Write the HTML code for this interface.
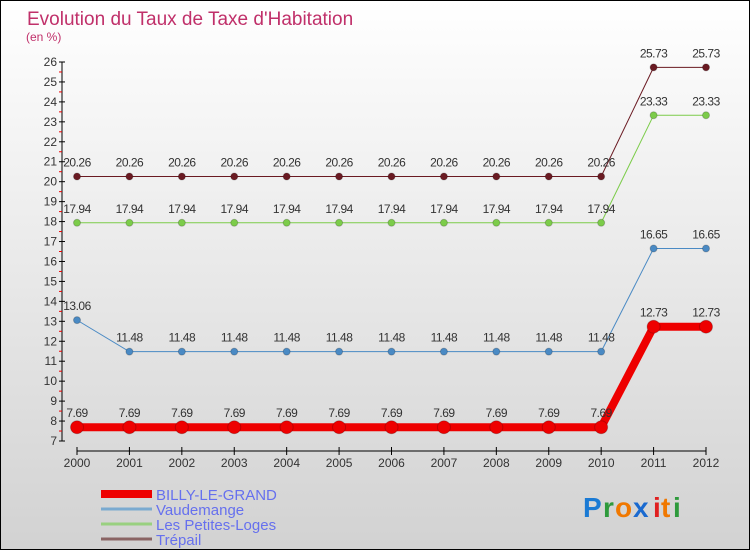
<!DOCTYPE html>
<html><head><meta charset="utf-8"><style>
body{margin:0}
#c{width:748px;height:548px;border:1px solid #000;background:linear-gradient(#fff,#d2d2d2);position:relative;font-family:"Liberation Sans",sans-serif;overflow:hidden}
</style></head><body>
<div id="c">
<svg id="s" width="748" height="548" xmlns="http://www.w3.org/2000/svg" style="position:absolute;left:0;top:0">
<text x="26" y="24" font-size="19" fill="#c0306a">Evolution du Taux de Taxe d'Habitation</text>
<text x="25" y="40" font-size="12" fill="#c0306a">(en %)</text>
<g id="axes"></g><g id="series"></g>
<g id="legend"></g>
<g font-size="28" font-weight="bold" font-family="Liberation Sans,sans-serif">
<text x="582" y="516" fill="#1a7ad4">P</text><text x="602" y="516" fill="#2e9a3c">r</text><text x="614" y="516" fill="#f07800">o</text><text x="632" y="516" fill="#1a6ad0">x</text><text x="652" y="516" fill="#e02020">i</text><text x="660" y="516" fill="#f07800">t</text><text x="672" y="516" fill="#2e9a3c">i</text>
</g>
</svg>
</div>
<script>
const years=[2000,2001,2002,2003,2004,2005,2006,2007,2008,2009,2010,2011,2012];
const billy=[7.69,7.69,7.69,7.69,7.69,7.69,7.69,7.69,7.69,7.69,7.69,12.73,12.73];
const vaud=[13.06,11.48,11.48,11.48,11.48,11.48,11.48,11.48,11.48,11.48,11.48,16.65,16.65];
const petites=[17.94,17.94,17.94,17.94,17.94,17.94,17.94,17.94,17.94,17.94,17.94,23.33,23.33];
const trepail=[20.26,20.26,20.26,20.26,20.26,20.26,20.26,20.26,20.26,20.26,20.26,25.73,25.73];
const yTicks=[7,8,9,10,11,12,13,14,15,16,17,18,19,20,21,22,23,24,25,26];
const NS="http://www.w3.org/2000/svg";
const x=i=>76+i*(705-76)/(years.length-1);
const y=v=>440-(v-7)*(440-61)/19;
function mk(p,t,a){const e=document.createElementNS(NS,t);for(const k in a)e.setAttribute(k,a[k]);p.appendChild(e);return e;}
const ax=document.getElementById('axes');
let yl=mk(ax,'line',{x1:61,y1:61,x2:61,y2:440,stroke:'#000'});


yTicks.forEach(v=>{
 mk(ax,'line',{x1:58,x2:64,y1:y(v),y2:y(v),stroke:'#000'});
 if(v<26)mk(ax,'line',{x1:58,x2:61,y1:y(v+0.5),y2:y(v+0.5),stroke:'#e00'});
 const t=mk(ax,'text',{x:56,y:y(v)+4,'font-size':12,fill:'#333','text-anchor':'end'});
 t.textContent=v;
 
 
});
let xl=mk(ax,'line',{x1:76,y1:450,x2:705,y2:450,stroke:'#000'});


years.forEach((yr,i)=>{
 mk(ax,'line',{x1:x(i),x2:x(i),y1:446,y2:454,stroke:'#000'});
 const t=mk(ax,'text',{x:x(i),y:466,'font-size':12,fill:'#333','text-anchor':'middle'});
 t.textContent=yr;
 
 
});
const sg=document.getElementById('series');
function series(d,col,lw,r,name){
 const g=mk(sg,'g',{});
 
 
 mk(g,'polyline',{points:d.map((v,i)=>x(i)+','+y(v)).join(' '),fill:'none',stroke:col,'stroke-width':lw});
 d.forEach((v,i)=>{
  const c=mk(g,'circle',{cx:x(i),cy:y(v),r:r,fill:col,stroke:'#0003'});
  
  
  const t=mk(g,'text',{x:x(i),y:y(v)-10,'font-size':12,fill:'#333','text-anchor':'middle','letter-spacing':'-0.5'});
  t.textContent=v;
  
  
 });
}
series(trepail,'#6a1a22',1,3.5,'trepail-series');
series(petites,'#7ccc4a',1,3.5,'petites-loges-series');
series(vaud,'#4a8ac4',1,3.5,'vaudemange-series');
series(billy,'#ee0000',8,6.5,'billy-series');
const lg=document.getElementById('legend');
[['BILLY-LE-GRAND','#ee0000',8],['Vaudemange','#7aaad0',3],['Les Petites-Loges','#99d080',3],['Trépail','#8a6464',3]].forEach((e,i)=>{
 const yy=493+i*15;
 const l=mk(lg,'line',{x1:100,x2:151,y1:yy,y2:yy,stroke:e[1],'stroke-width':e[2]});
 
 
 const t=mk(lg,'text',{x:155,y:yy+6,'font-size':15,fill:'#6670ee'});
 t.textContent=e[0];
 
 
});
</script>
</body></html>
